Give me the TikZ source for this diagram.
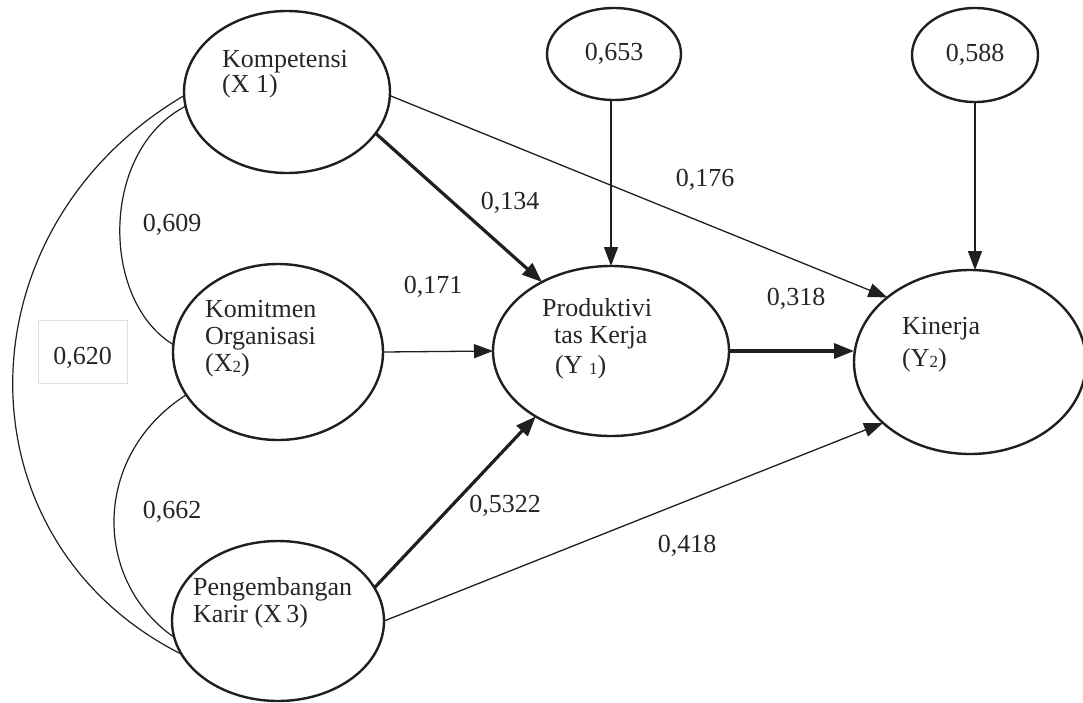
\documentclass[tikz,border=0pt]{standalone}
\usepackage{fontspec}
\setmainfont{Liberation Serif}
\usetikzlibrary{arrows.meta,shapes.geometric}
\newcommand\subsm[1]{\raisebox{-1.5pt}{\fontsize{17}{17}\selectfont #1}}
\begin{document}
\begin{tikzpicture}[x=1pt,y=-1pt,
  lat/.style={ellipse,draw=black!88,line width=2.4pt,inner sep=0pt,outer sep=0pt,font=\fontsize{26}{27}\selectfont,text=black!85},
  txt/.style={font=\fontsize{26}{27}\selectfont,inner sep=0pt,text=black!85,align=left,anchor=north west},
  lab/.style={font=\fontsize{26}{27}\selectfont,inner sep=0pt,text=black!85,anchor=base},
  pathl/.style={draw=black!88,line width=1.3pt,-{Triangle[length=19pt,width=14pt]}},
  boldl/.style={draw=black!88,line width=3.2pt,-{Triangle[length=20pt,width=15pt]}},
  corr/.style={draw=black!88,line width=1.2pt}]
\fill[white] (0,0) rectangle (1083,702);
\useasboundingbox (0,0) rectangle (1083,702);
% latent variables
\node[lat,minimum width=206pt,minimum height=162pt] (X1) at (287,92) {};
\node[lat,minimum width=210pt,minimum height=176pt] (X2) at (278,352) {};
\node[lat,minimum width=212pt,minimum height=160pt] (X3) at (278,621) {};
\node[lat,minimum width=236pt,minimum height=170pt] (Y1) at (611,351) {};
\node[lat,minimum width=232pt,minimum height=184pt] (Y2) at (970,362) {};
\node[lat,minimum width=134pt,minimum height=92pt] (E1) at (614,54) {0,653};
\node[lat,minimum width=126pt,minimum height=94pt] (E2) at (975,55) {0,588};
% texts in ellipses
\node[txt] (tX1) at (222,50) {Kompetensi\\[-2pt](X 1)};
\node[txt] (tX2) at (205,300) {Komitmen\\Organisasi\\(X\subsm{2})};
\node[txt] (tX3) at (193,577) {Pengembangan\\Karir (X\,3)};
\node[txt] (tY1) at (542,298) {Produktivi\\\hspace*{12pt}tas Kerja\\[3pt]\hspace*{13pt}(Y \subsm{1})};
\node[txt] (tY2) at (902,317) {Kinerja\\[5pt](Y\subsm{2})};
% correlations
\draw[corr] (X1.188) .. controls (100,150) and (100,300) .. (X2.176);
\draw[corr] (X1.182) .. controls (-44,230) and (-44,541) .. (X3.199);
\draw[corr] (X2.205) .. controls (92,455) and (92,580) .. (X3.189);
% paths
\draw[boldl] (X1.-25) -- (Y1.135);
\draw[pathl] (X1.-2) -- (Y2.142);
\draw[pathl] (X2.east) -- (Y1.west);
\draw[boldl] (X3.19) -- (Y1.221);
\draw[pathl] (X3.east) -- (Y2.215);
\draw[boldl] (Y1.east) -- (Y1.east -| Y2.west);
\draw[pathl] (Y1.north |- E1.south) -- (Y1.north);
\draw[pathl] (E2.south) -- (E2.south |- Y2.north);
% coefficient labels
\node[lab] (l134) at (510,209) {0,134};
\node[lab] (l176) at (705,186) {0,176};
\node[lab] (l171) at (433,293) {0,171};
\node[lab] (l318) at (796,305) {0,318};
\node[lab] (l5322) at (505,512) {0,5322};
\node[lab] (l418) at (687,552) {0,418};
\node[lab] (l609) at (172,231) {0,609};
\node[lab] (l662) at (172,518) {0,662};
\node[font=\fontsize{26}{27}\selectfont,text=black!85,draw=black!12,line width=0.8pt,minimum width=89pt,minimum height=63pt,inner sep=0pt,text height=25pt,text depth=0pt] (l620) at (82.5,351.5) {0,620};
\end{tikzpicture}
\end{document}
